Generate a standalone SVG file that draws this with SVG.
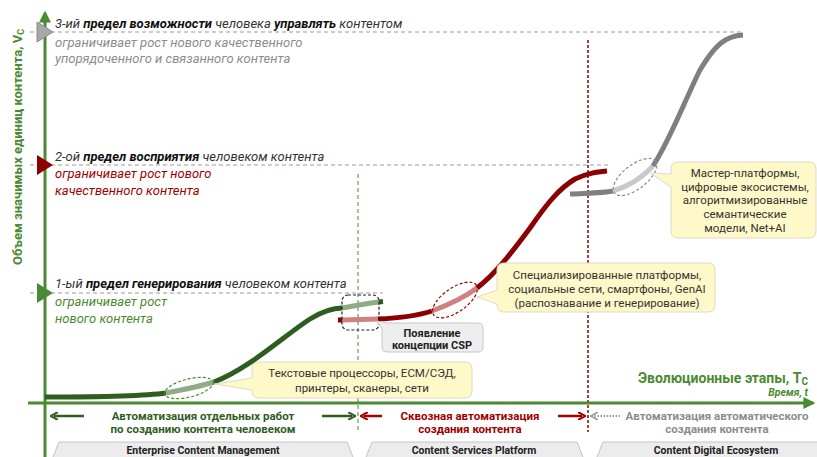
<svg xmlns="http://www.w3.org/2000/svg" width="817" height="457" viewBox="0 0 817 457">
<defs>
<style>
text{font-family:Roboto,"Liberation Sans",sans-serif;}
.hd{font-size:13px;font-style:italic;fill:#333;}
.hd tspan.b{font-weight:bold;fill:#111;}
.sub{font-size:13px;font-style:italic;}
.dash{stroke:#9a9a9a;stroke-width:1;stroke-dasharray:4 3;fill:none;}
.cv{fill:none;stroke-width:5;stroke-linecap:butt;}
.g{stroke:#2e5e1f;}.gl{stroke:#8fac87;}
.r{stroke:#8b0000;}.rl{stroke:#d08080;}
.k{stroke:#7f7f7f;}.kl{stroke:#c9c9c9;}
.ell{fill:none;stroke-width:1.2;stroke-dasharray:3 2;}
.call{fill:#fff8c9;stroke:#dcdcc8;stroke-width:1;}
.ct{font-size:11.5px;fill:#333;text-anchor:middle;}
.pill{fill:#ececec;stroke:#c4c4c4;stroke-width:1;}
.pt{font-size:10.5px;font-weight:bold;fill:#222;text-anchor:middle;}
.ph{font-size:11.5px;font-weight:bold;text-anchor:middle;}
</style>
<marker id="ag" viewBox="0 0 10 10" refX="8" refY="5" markerWidth="4" markerHeight="4" orient="auto-start-reverse"><path d="M0,0 L10,5 L0,10 z" fill="#4a8a32"/></marker>
<marker id="adg" viewBox="0 0 10 10" refX="5" refY="5" markerWidth="3.2" markerHeight="3.2" orient="auto-start-reverse"><path d="M0,0 L9,5 L0,10" fill="none" stroke="#2e5e1f" stroke-width="2.5"/></marker>
<marker id="ar" viewBox="0 0 10 10" refX="5" refY="5" markerWidth="3.2" markerHeight="3.2" orient="auto-start-reverse"><path d="M0,0 L9,5 L0,10" fill="none" stroke="#a00000" stroke-width="2.5"/></marker>
<marker id="ak" viewBox="0 0 10 10" refX="5" refY="5" markerWidth="4" markerHeight="4" orient="auto-start-reverse"><path d="M0,0 L9,5 L0,10" fill="none" stroke="#999" stroke-width="2"/></marker>
</defs>
<rect width="817" height="457" fill="#fff"/>

<!-- limit guide lines -->
<g id="guides">
<line class="dash" x1="30" y1="32" x2="743" y2="32"/>
<line class="dash" x1="30" y1="165" x2="609" y2="165"/>
<line class="dash" x1="30" y1="293" x2="383" y2="293"/>
<line x1="358" y1="174" x2="358" y2="431" stroke="#4a8a32" stroke-width="1" stroke-dasharray="4 3"/>
<line x1="588" y1="40" x2="588" y2="432" stroke="#8b0000" stroke-width="1.5" stroke-dasharray="3 2"/>
</g>

<!-- axes -->
<g id="axes">
<line x1="45" y1="457" x2="45" y2="13" stroke="#4a8a32" stroke-width="3" marker-end="url(#ag)"/>
<line x1="28" y1="403" x2="813" y2="403" stroke="#4a8a32" stroke-width="3" marker-end="url(#ag)"/>
<text transform="translate(22,147) rotate(-90)" text-anchor="middle" font-size="13" font-weight="bold" fill="#4a8a32">Объем значимых единиц контента, V<tspan font-size="9" dy="2">C</tspan></text>
<text x="808" y="383" text-anchor="end" font-size="14" font-weight="bold" fill="#4a8a32">Эволюционные этапы, T<tspan font-size="10" dy="2">C</tspan></text>
<text x="808" y="396" text-anchor="end" font-size="10.5" font-weight="bold" font-style="italic" fill="#4a8a32">Время, t</text>
</g>

<!-- limits -->
<g id="limit3">
<polygon points="37,22 37,42 53,32" fill="#a8a8a8" stroke="#8a8a8a" stroke-width="1"/>
<text class="hd" x="55" y="28">3-ий <tspan class="b">предел возможности</tspan> человека <tspan class="b">управлять</tspan> контентом</text>
<text class="sub" x="55" y="47" fill="#8c8c8c">ограничивает рост нового качественного</text>
<text class="sub" x="55" y="63" fill="#8c8c8c">упорядоченного и связанного контента</text>
</g>
<g id="limit2">
<polygon points="37,155 37,175 53,165" fill="#8b0000"/>
<text class="hd" x="55" y="161">2-ой <tspan class="b">предел восприятия</tspan> человеком контента</text>
<text class="sub" x="55" y="178" fill="#a00000">ограничивает рост нового</text>
<text class="sub" x="55" y="195" fill="#a00000">качественного контента</text>
</g>
<g id="limit1">
<polygon points="37,283 37,303 53,293" fill="#4a8a32"/>
<text class="hd" x="55" y="288">1-ый <tspan class="b">предел генерирования</tspan> человеком контента</text>
<text class="sub" x="55" y="306" fill="#4a8a32">ограничивает рост</text>
<text class="sub" x="55" y="323" fill="#4a8a32">нового контента</text>
</g>

<!-- curves -->
<g id="curve-ecm">
<path class="cv g" d="M45,397 C110,397 145,396 166,393"/>
<path class="cv gl" d="M166,393 C182,390 198,387 214,382"/>
<path class="cv g" d="M214,382 C250,368 285,335 310,319 C323,311 333,308 342,308"/>
<path class="cv gl" d="M342,308 C355,306 367,303 379,302"/>
<path class="cv g" d="M379,302 L383,301.6"/>
<ellipse class="ell" cx="189" cy="388" rx="25" ry="9" transform="rotate(-14 189 388)" stroke="#4a8a32"/>
</g>
<g id="curve-csp">
<path class="cv r" d="M338,320 L342,320"/>
<path class="cv rl" d="M342,320 L378,319"/>
<path class="cv r" d="M378,319 C400,318 420,315 432,311"/>
<path class="cv rl" d="M432,311 C448,305 465,297 477,288"/>
<path class="cv r" d="M477,288 C495,274 510,255 530,228 C548,202 560,188 575,179 C588,173 597,172 607,171"/>
<ellipse class="ell" cx="455" cy="300" rx="26" ry="12" transform="rotate(-35 455 300)" stroke="#a00000"/>
</g>
<g id="curve-cde">
<path class="cv k" d="M570,194 C590,193 603,193 613,191"/>
<path class="cv kl" d="M613,191 C630,186 643,177 653,166"/>
<path class="cv k" d="M653,166 C670,140 685,100 700,70 C715,45 725,36 743,35"/>
<ellipse class="ell" cx="635" cy="177" rx="26" ry="12" transform="rotate(-38 635 177)" stroke="#8a8a8a"/>
</g>
<g id="csp-transition">
<rect x="342" y="295" width="37" height="35" rx="6" fill="none" stroke="#222" stroke-width="1.2" stroke-dasharray="3 2"/>
</g>

<!-- callouts -->
<g id="callout-ecm">
<path class="call" d="M259,362 H465 Q472,362 472,369 V391 Q472,398 465,398 H259 Q252,398 252,391 V390 L215,384 L252,378 V369 Q252,362 259,362 Z"/>
<text class="ct" x="362" y="377">Текстовые процессоры, ECM/СЭД,</text>
<text class="ct" x="362" y="392">принтеры, сканеры, сети</text>
</g>
<g id="callout-csp">
<path class="call" d="M504,263 H708 Q715,263 715,270 V305 Q715,312 708,312 H504 Q497,312 497,305 V304 L477,297 L497,290 V270 Q497,263 504,263 Z"/>
<text class="ct" x="607" y="279">Специализированные платформы,</text>
<text class="ct" x="607" y="293">социальные сети, смартфоны, GenAI</text>
<text class="ct" x="607" y="307">(распознавание и генерирование)</text>
</g>
<g id="callout-cde">
<path class="call" d="M678,162 H809 Q816,162 816,169 V231 Q816,238 809,238 H678 Q671,238 671,231 V187 L650,173 L671,174 V169 Q671,162 678,162 Z"/>
<text class="ct" x="745" y="177">Мастер-платформы,</text>
<text class="ct" x="745" y="191">цифровые экосистемы,</text>
<text class="ct" x="745" y="204">алгоритмизированные</text>
<text class="ct" x="745" y="218">семантические</text>
<text class="ct" x="745" y="232">модели, Net+AI</text>
</g>
<g id="callout-csp-concept">
<path d="M388,323 H478 Q483,323 483,328 V347 Q483,352 478,352 H387 Q382,352 382,347 V329 L377,321 Z" fill="#eeeeee" stroke="#c8c8c8" stroke-width="1"/>
<text x="432" y="337" font-size="11" font-weight="bold" fill="#222" text-anchor="middle">Появление</text>
<text x="432" y="349" font-size="11" font-weight="bold" fill="#222" text-anchor="middle">концепции CSP</text>
</g>

<!-- phases -->
<g id="phase-ecm">
<line x1="84" y1="416" x2="54" y2="416" stroke="#2e5e1f" stroke-width="2.5" marker-end="url(#adg)"/>
<line x1="322" y1="416" x2="352" y2="416" stroke="#2e5e1f" stroke-width="2.5" marker-end="url(#adg)"/>
<text class="ph" x="203" y="420" fill="#2e5e1f">Автоматизация отдельных работ</text>
<text class="ph" x="203" y="433" fill="#2e5e1f">по созданию контента человеком</text>
<path class="pill" d="M59,442 H347 L353,457 L347,472 H59 L53,457 Z"/>
<text class="pt" x="203" y="454">Enterprise Content Management</text>
</g>
<g id="phase-csp">
<line x1="382" y1="416" x2="364" y2="416" stroke="#a00000" stroke-width="2.5" marker-end="url(#ar)"/>
<line x1="558" y1="416" x2="582" y2="416" stroke="#a00000" stroke-width="2.5" marker-end="url(#ar)"/>
<text class="ph" x="470" y="420" fill="#a00000">Сквозная автоматизация</text>
<text class="ph" x="470" y="433" fill="#a00000">создания контента</text>
<path class="pill" d="M372,442 H577 L583,457 L577,472 H372 L366,457 Z"/>
<text class="pt" x="474" y="454">Content Services Platform</text>
</g>
<g id="phase-cde">
<line x1="620" y1="416" x2="594" y2="416" stroke="#999" stroke-width="2" stroke-dasharray="1.5 1.5" marker-end="url(#ak)"/>
<text class="ph" x="717" y="420" fill="#8c8c8c">Автоматизация автоматического</text>
<text class="ph" x="717" y="433" fill="#8c8c8c">создания контента</text>
<path class="pill" d="M603,442 H830 L836,457 L830,472 H603 L597,457 Z"/>
<text class="pt" x="716" y="454">Content Digital Ecosystem</text>
</g>
</svg>
